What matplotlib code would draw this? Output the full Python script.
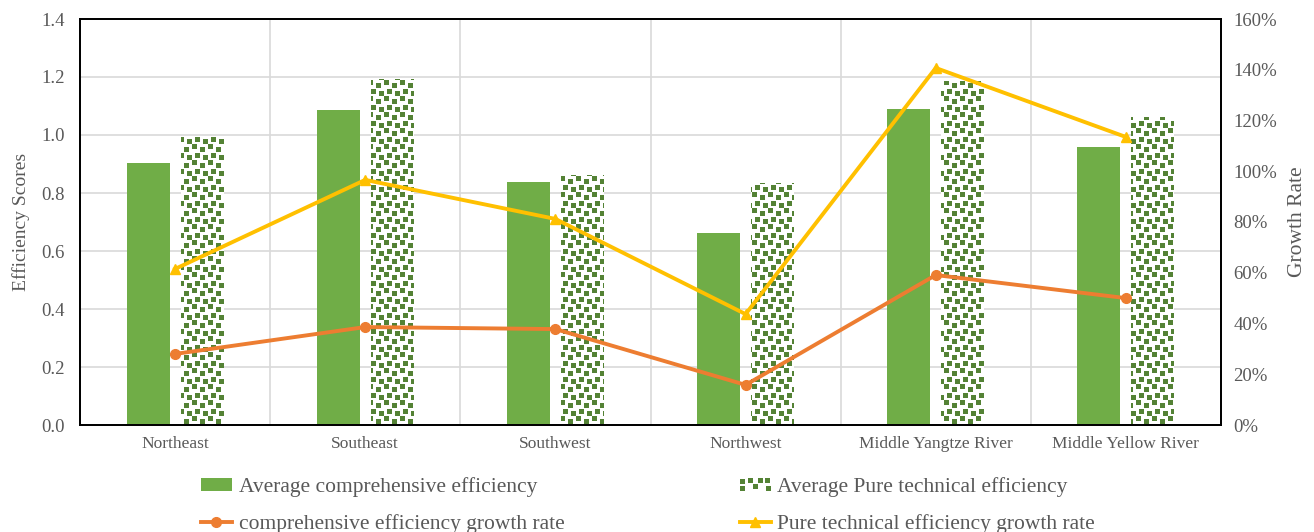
import numpy as np
import matplotlib
matplotlib.use("Agg")
import matplotlib.pyplot as plt
from matplotlib.patches import Rectangle
from matplotlib.legend_handler import HandlerBase
from matplotlib.lines import Line2D
from matplotlib.ticker import FuncFormatter, MultipleLocator

# ---- data ----
regions = ["Northeast", "Southeast", "Southwest", "Northwest",
           "Middle Yangtze River", "Middle Yellow River"]
avg_comprehensive = [0.903, 1.086, 0.838, 0.662, 1.090, 0.959]
avg_pure_technical = [0.993, 1.193, 0.862, 0.834, 1.186, 1.062]
comp_growth = [28.0, 38.6, 37.8, 15.8, 59.1, 50.0]      # percent
pure_growth = [61.5, 96.6, 81.2, 43.7, 140.7, 113.5]    # percent

# ---- style ----
GREEN = "#70AD47"
DARK_GREEN = "#548235"
ORANGE = "#ED7D31"
YELLOW = "#FFC000"
TEXT = "#595959"
GRID = "#D9D9D9"
FONT = "Liberation Serif"

plt.rcParams["font.family"] = [FONT, "DejaVu Serif"]

W, H, DPI = 1314, 532, 100
fig = plt.figure(figsize=(W / DPI, H / DPI), dpi=DPI)
ax = fig.add_axes([80 / W, 1 - 425 / H, (1221 - 80) / W, (425 - 19) / H])
ax2 = ax.twinx()

n = len(regions)
x = np.arange(n)
bw = 0.226
off = 0.142

ax.set_xlim(-0.5, n - 0.5)
ax.set_ylim(0, 1.4)
ax.set_autoscale_on(False)

# solid bars
ax.bar(x - off, avg_comprehensive, width=bw, color=GREEN, zorder=2)


# confetti fill, laid out in display pixels so every bar shares one grid
def confetti(h, w, x0, y0):
    img = np.ones((h, w, 4))
    ys, xs = np.mgrid[0:h, 0:w]
    gx = (xs + x0) % 16
    gy = (ys + y0) % 16
    squares = [(0, 0), (8, 3), (3, 9), (11, 11)]
    mask = np.zeros((h, w), bool)
    for sx, sy in squares:
        mask |= (gx >= sx) & (gx < sx + 5) & (gy >= sy) & (gy < sy + 5)
    rgb = matplotlib.colors.to_rgb(DARK_GREEN)
    img[mask, :3] = rgb
    return img


pattern_bars = ax.bar(x + off, avg_pure_technical, width=bw, color="white",
                      zorder=2)
fig.canvas.draw()
for rect in pattern_bars:
    bx, by, bwid, bh = rect.get_x(), rect.get_y(), rect.get_width(), rect.get_height()
    (px0, py0) = ax.transData.transform((bx, by))
    (px1, py1) = ax.transData.transform((bx + bwid, by + bh))
    wpx = max(1, int(round(px1 - px0)))
    hpx = max(1, int(round(py1 - py0)))
    img = confetti(hpx, wpx, int(round(px0)), int(round(H - py1)))
    im = ax.imshow(img, extent=(bx, bx + bwid, by, by + bh), aspect="auto",
                   interpolation="nearest", zorder=2.5)
    im.set_clip_path(rect)
ax.set_xlim(-0.5, n - 0.5)
ax.set_ylim(0, 1.4)

# growth lines on secondary axis
ax2.set_ylim(0, 160)
ax2.plot(x, comp_growth, color=ORANGE, lw=2.8, marker="o", ms=7, zorder=3)
ax2.plot(x, pure_growth, color=YELLOW, lw=2.8, marker="^", ms=7, zorder=3)

# grid
ax.yaxis.set_major_locator(MultipleLocator(0.2))
ax.grid(axis="y", color=GRID, lw=1.2, zorder=0)
for b in np.arange(0.5, n - 1, 1.0):
    ax.axvline(b, color=GRID, lw=1.2, zorder=0)
ax.set_axisbelow(True)

# frame
for a in (ax, ax2):
    for s in a.spines.values():
        s.set_color("black")
        s.set_linewidth(1.3)

# ticks and labels
ax.set_xticks(x)
ax.set_xticklabels(regions, fontsize=12.5, color=TEXT)
ax.tick_params(axis="x", length=0, pad=8)
ax.yaxis.set_major_formatter(FuncFormatter(lambda v, p: f"{v:.1f}"))
ax.tick_params(axis="y", length=0, pad=11, labelsize=13.5, labelcolor=TEXT)
ax2.yaxis.set_major_locator(MultipleLocator(20))
ax2.yaxis.set_major_formatter(FuncFormatter(lambda v, p: f"{v:.0f}%"))
ax2.tick_params(axis="y", length=0, pad=9, labelsize=13.5, labelcolor=TEXT)

ax.set_ylabel("Efficiency Scores", fontsize=14, color=TEXT, labelpad=8)
ax2.set_ylabel("Growth Rate", fontsize=15.5, color=TEXT, labelpad=8)


# legend handle for the patterned bars
class ConfettiHandler(HandlerBase):
    def create_artists(self, legend, orig_handle, xdescent, ydescent,
                       width, height, fontsize, trans):
        arts = []
        s = height * 0.38
        pts = [(0.0, 0.55), (0.02, 0.0), (0.3, 0.62), (0.5, 0.12),
               (0.7, 0.62), (0.95, 0.6), (1.0, 0.0)]
        for fx, fy in pts:
            r = Rectangle((-xdescent + fx * (width - s), -ydescent + fy * height),
                          s, s, facecolor=DARK_GREEN, edgecolor="none",
                          transform=trans)
            arts.append(r)
        return arts


h_solid = Rectangle((0, 0), 1, 1, facecolor=GREEN, edgecolor="none")
h_pattern = Rectangle((0, 0), 1, 1, facecolor="white")
h_comp = Line2D([], [], color=ORANGE, lw=2.8, marker="o", ms=7)
h_pure = Line2D([], [], color=YELLOW, lw=2.8, marker="^", ms=7)

leg = fig.legend(
    [h_solid, h_comp, h_pattern, h_pure],
    ["Average comprehensive efficiency", "comprehensive efficiency growth rate",
     "Average Pure technical efficiency", "Pure technical efficiency growth rate"],
    ncol=2, loc="center", bbox_to_anchor=(648 / W, (532 - 505.5) / 532),
    frameon=False, fontsize=15.5, columnspacing=8.15, handlelength=1.45,
    handleheight=0.56, handletextpad=0.3, labelspacing=0.78, borderpad=0.2,
    handler_map={h_pattern: ConfettiHandler()},
)
for t in leg.get_texts():
    t.set_color(TEXT)

fig.savefig("out.png", dpi=DPI)
